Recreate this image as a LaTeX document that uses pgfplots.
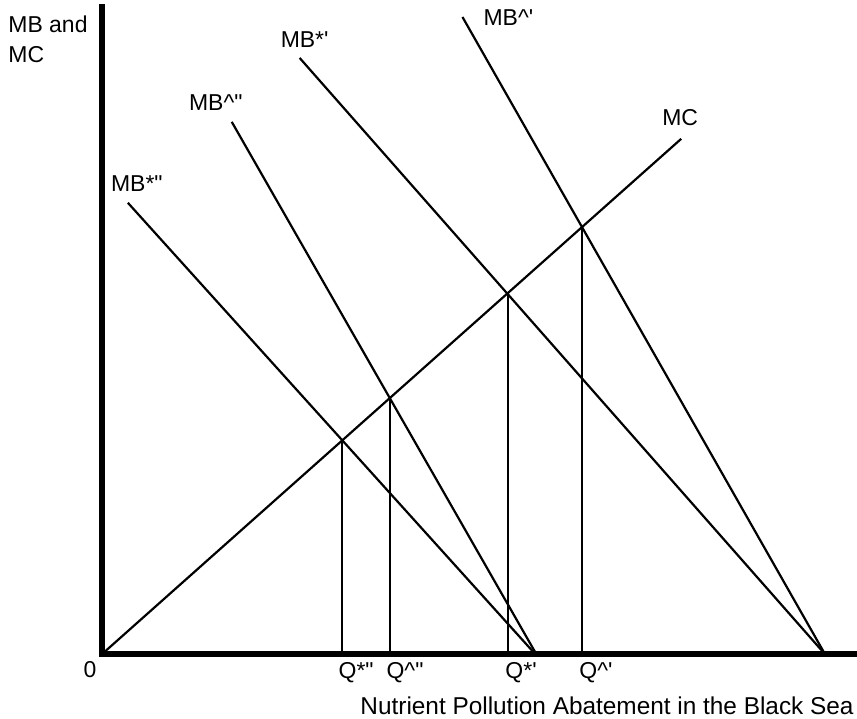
\documentclass[border=0pt]{standalone}
\usepackage{pgfplots}
\pgfplotsset{compat=1.18}
\usepackage{fontspec}
\setmainfont{Liberation Sans}[Ligatures=TeXOff]
\begin{document}
\begin{tikzpicture}
\begin{axis}[
  x=0.5pt, y=0.5pt,
  xmin=0, xmax=753, ymin=0, ymax=648,
  axis x line=bottom, axis y line=left,
  axis line style={line width=3pt, -, line cap=rect},
  ytick=\empty,
  xtick={240,288,407,481},
  xticklabels={Q*", Q\textasciicircum", Q*', Q\textasciicircum'},
  major tick length=0pt,
  xticklabel style={anchor=north west, xshift=-5pt, yshift=-0.5pt, font=\fontsize{11.5}{13}\selectfont},
  clip=false,
]
% MC
\addplot[black, line width=1.1pt] coordinates {(0,0) (580,516)};
% MB*''
\addplot[black, line width=1.1pt] coordinates {(26,452) (434,0)};
% MB^''
\addplot[black, line width=1.1pt] coordinates {(130,533) (435,0)};
% MB*'
\addplot[black, line width=1.1pt] coordinates {(198,597) (724,0)};
% MB^'
\addplot[black, line width=1.1pt] coordinates {(361,638) (724,0)};
% verticals
\addplot[black, line width=1pt] coordinates {(240,0) (240,214)};
\addplot[black, line width=1pt] coordinates {(288,0) (288,256)};
\addplot[black, line width=1pt] coordinates {(407,0) (407,363)};
\addplot[black, line width=1pt] coordinates {(481,0) (481,429)};
\begin{scope}[every node/.style={font=\fontsize{11.5}{13}\selectfont}]
\node at (axis cs:35,471) {MB*"};
\node at (axis cs:114,552) {MB\textasciicircum"};
\node at (axis cs:203,615) {MB*'};
\node at (axis cs:407,637) {MB\textasciicircum'};
\node at (axis cs:579,537) {MC};
\node[anchor=base west, inner sep=0pt] at (axis cs:-94,622) {MB and};
\node[anchor=base west, inner sep=0pt] at (axis cs:-94,592) {MC};
\node at (axis cs:-12,-15) {0};
\node[anchor=base east, inner sep=0pt, font=\fontsize{12.2}{14}\selectfont] at (axis cs:753,-60) {Nutrient Pollution Abatement in the Black Sea};
\end{scope}
\path (axis cs:-102,-64) (axis cs:755,655);
\end{axis}
\end{tikzpicture}
\end{document}
